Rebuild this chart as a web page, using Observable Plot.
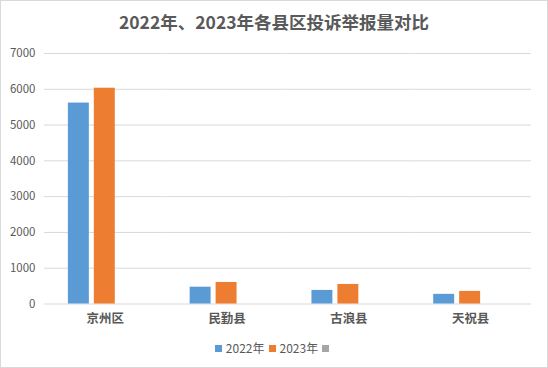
<!DOCTYPE html>
<html>
<head>
<meta charset="utf-8">
<script src="https://cdn.jsdelivr.net/npm/d3@7"></script>
<script src="https://cdn.jsdelivr.net/npm/@observablehq/plot@0.6"></script>
<style>
  html, body { margin: 0; padding: 0; background: #fff; }
  #frame { position: relative; width: 548px; height: 368px; box-sizing: border-box; border: 1px solid #d9d9d9; background: #fff; font-family: "Noto Sans CJK SC", "Noto Sans", sans-serif; overflow: hidden; }
  #title { position: absolute; left: 0; top: 9px; width: 546px; text-align: center; font-size: 17.5px; font-weight: bold; color: #595959; line-height: 24px; }
  #chart { position: absolute; left: -1px; top: 39px; }
  #legend { position: absolute; left: 0; top: 338px; width: 546px; display: flex; justify-content: center; align-items: center; font-size: 12px; color: #595959; line-height: 18px; }
  .item { display: flex; align-items: center; margin: 0 2px; }
  .sw { width: 7px; height: 7px; margin-right: 4px; }
</style>
</head>
<body>
<div id="frame">
  <div id="title"></div>
  <div id="chart"></div>
  <div id="legend"></div>
</div>
<script>
const titleText = "2022年、2023年各县区投诉举报量对比";
const counties = ["京州区", "民勤县", "古浪县", "天祝县"];
const seriesNames = ["2022年", "2023年", ""];
const seriesColors = ["#5B9BD5", "#ED7D31", "#A5A5A5"];
const values2022 = [5615, 470, 380, 270];
const values2023 = [6030, 602, 547, 352];
const values3 = [null, null, null, null];
const yTicks = [0, 1000, 2000, 3000, 4000, 5000, 6000, 7000];

const allValues = [values2022, values2023, values3];
const data = [];
seriesNames.forEach((s, i) => {
  counties.forEach((c, j) => {
    if (allValues[i][j] != null) data.push({county: c, series: s, value: allValues[i][j]});
  });
});

document.getElementById("title").textContent = titleText;

const chart = Plot.plot({
  width: 548,
  height: 290,
  marginLeft: 44,
  marginRight: 16,
  marginTop: 13,
  marginBottom: 26,
  style: {fontFamily: '"Noto Sans CJK SC", "Noto Sans", sans-serif', background: "transparent", overflow: "visible"},
  fx: {domain: counties, padding: 0, label: null},
  x: {domain: seriesNames, paddingInner: 5 / 27, paddingOuter: 0.852, axis: null},
  y: {domain: [0, 7000], label: null},
  color: {domain: seriesNames, range: seriesColors},
  marks: [
    Plot.gridY(yTicks, {stroke: "#d9d9d9", strokeOpacity: 1, strokeWidth: 1}),
    Plot.axisY(yTicks, {tickSize: 0, tickPadding: 9, fontSize: 11.5, fill: "#595959", label: null, tickFormat: d => String(d)}),
    Plot.axisFx({anchor: "bottom", tickSize: 0, tickPadding: 10, fontSize: 12.5, fontWeight: "bold", fill: "#595959", label: null}),
    Plot.barY(data, {fx: "county", x: "series", y: "value", fill: "series"})
  ]
});
document.getElementById("chart").appendChild(chart);

const legend = document.getElementById("legend");
seriesNames.forEach((s, i) => {
  const item = document.createElement("div");
  item.className = "item";
  const sw = document.createElement("div");
  sw.className = "sw";
  sw.style.background = seriesColors[i];
  item.appendChild(sw);
  if (s) {
    const t = document.createElement("span");
    t.textContent = s;
    item.appendChild(t);
  }
  legend.appendChild(item);
});
</script>
</body>
</html>
